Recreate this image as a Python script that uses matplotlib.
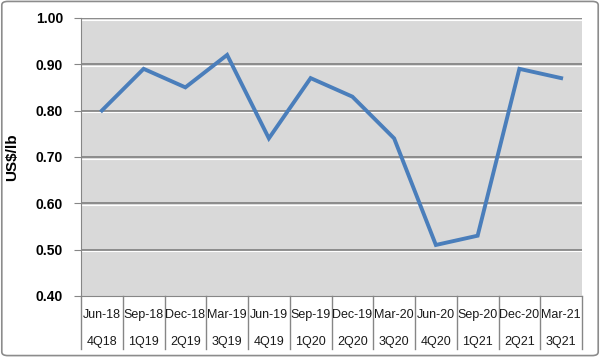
import numpy as np
import matplotlib.pyplot as plt
import matplotlib.transforms as mtransforms
from matplotlib.patches import FancyBboxPatch

months = ['Jun-18', 'Sep-18', 'Dec-18', 'Mar-19', 'Jun-19', 'Sep-19',
          'Dec-19', 'Mar-20', 'Jun-20', 'Sep-20', 'Dec-20', 'Mar-21']
quarters = ['4Q18', '1Q19', '2Q19', '3Q19', '4Q19', '1Q20',
            '2Q20', '3Q20', '4Q20', '1Q21', '2Q21', '3Q21']
price = [0.80, 0.89, 0.85, 0.92, 0.74, 0.87, 0.83, 0.74, 0.51, 0.53, 0.89, 0.87]
yticks = [0.40, 0.50, 0.60, 0.70, 0.80, 0.90, 1.00]

fig = plt.figure(figsize=(6, 3.57), dpi=100)
ax = fig.add_axes([0.135, 0.171, 0.835, 0.779])

# outer frame of the chart
frame = FancyBboxPatch((0.003, 0.004), 0.994, 0.992, boxstyle="round,pad=0,rounding_size=0.01",
                       transform=fig.transFigure, fill=False, ec='#8c8c8c', lw=1.2)
fig.patches.append(frame)

ax.set_facecolor('#d9d9d9')
x = np.arange(len(price))
ax.set_xlim(-0.5, len(price) - 0.5)
ax.set_ylim(0.40, 1.00)
ax.set_yticks(yticks)
ax.set_yticklabels(['%.2f' % v for v in yticks], fontsize=10, fontweight='bold',
                   family='Liberation Sans')
for v in yticks[1:]:
    ax.axhline(v, color='#858585', lw=1.3, zorder=1)
    ax.axhline(v - 0.004, color='white', lw=0.8, zorder=1)

ax.plot(x, price, color='#4a7ebb', lw=2.8, zorder=3, solid_joinstyle='miter')

for side in ['top', 'right']:
    ax.spines[side].set_visible(False)
ax.spines['left'].set_color('#868686')
ax.spines['bottom'].set_color('#868686')
ax.tick_params(axis='y', length=5, color='#868686', pad=8)
ax.set_xticks([])
ax.set_ylabel('US$/lb', fontsize=11, fontweight='bold', family='Liberation Sans', labelpad=12)

# two-row category axis
trans = mtransforms.blended_transform_factory(ax.transData, ax.transAxes)
for i in range(len(price)):
    ax.text(i, -0.07, months[i], transform=trans, ha='center', va='center',
            fontsize=9, family='Liberation Sans', color='#1a1a1a', clip_on=False)
    ax.text(i, -0.165, quarters[i], transform=trans, ha='center', va='center',
            fontsize=9, family='Liberation Sans', color='#1a1a1a', clip_on=False)
for b in np.arange(-0.5, len(price), 1.0):
    ax.plot([b, b], [0, -0.19], transform=trans, color='#868686', lw=1, clip_on=False)

fig.savefig('out.png', dpi=100)
